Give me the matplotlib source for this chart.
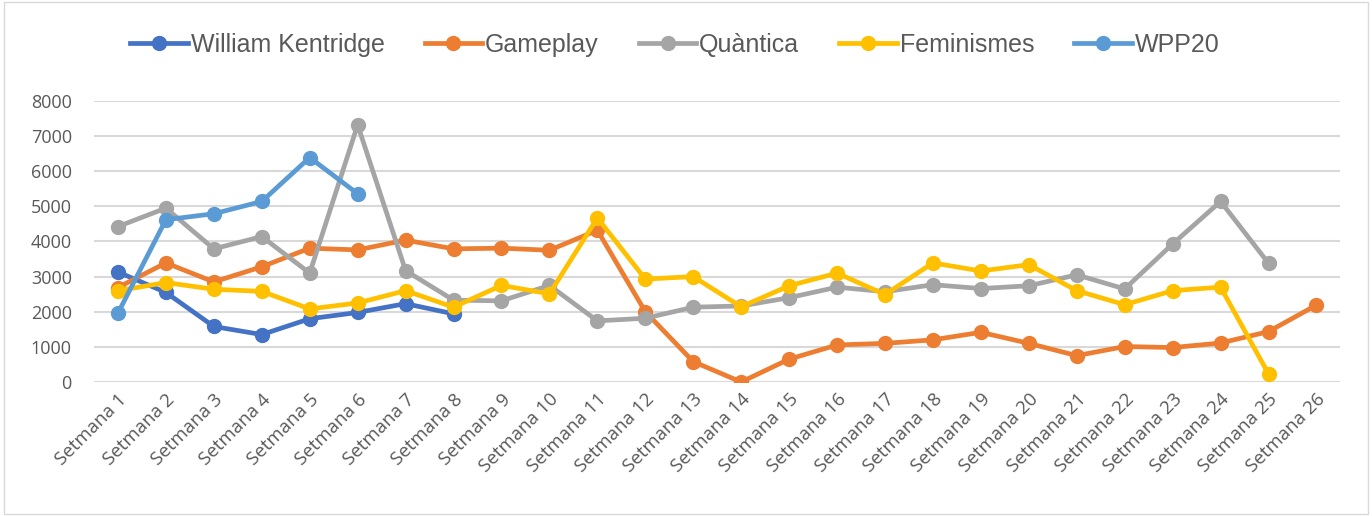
import numpy as np
import matplotlib.pyplot as plt
from matplotlib.patches import Rectangle

plt.rcParams['font.family'] = ['Open Sans', 'DejaVu Sans']

# Setmanes
weeks = [f"Setmana {i}" for i in range(1, 27)]

# Valors de cada exposició
kentridge = [3130, 2550, 1580, 1350, 1800, 1980, 2230, 1940]
gameplay = [2690, 3390, 2850, 3280, 3810, 3760, 4040, 3790, 3810, 3750, 4320, 2000,
            580, 0, 650, 1055, 1100, 1200, 1415, 1100, 750, 1010, 980, 1110, 1435, 2190]
quantica = [4425, 4950, 3790, 4140, 3100, 7320, 3170, 2330, 2310, 2750, 1740, 1815,
            2130, 2165, 2400, 2700, 2570, 2770, 2660, 2740, 3050, 2650, 3930, 5140, 3380]
feminismes = [2600, 2830, 2640, 2580, 2080, 2250, 2600, 2130, 2750, 2510, 4670, 2930,
              3000, 2140, 2740, 3100, 2490, 3390, 3160, 3340, 2600, 2200, 2600, 2700, 230]
wpp20 = [1960, 4620, 4790, 5140, 6390, 5360]

series = [
    ("William Kentridge", kentridge, "#4472C4"),
    ("Gameplay", gameplay, "#ED7D31"),
    ("Quàntica", quantica, "#A5A5A5"),
    ("Feminismes", feminismes, "#FFC000"),
    ("WPP20", wpp20, "#5B9BD5"),
]

fig = plt.figure(figsize=(13.72, 5.16), dpi=100)
ax = fig.add_axes([0.0685, 0.2597, 0.9085, 0.5446])

x = np.arange(1, 27)
for name, vals, col in series:
    ax.plot(x[:len(vals)], vals, color=col, lw=3.4, marker='o', ms=10,
            label=name, solid_joinstyle='round', zorder=3)

ax.set_xlim(0.5, 26.5)
ax.set_ylim(0, 8000)
ax.set_yticks(range(0, 8001, 1000))
ax.set_xticks(x)
ax.set_xticklabels(weeks, rotation=45, ha='right', rotation_mode='anchor')
ax.tick_params(axis='both', length=0, labelcolor='#595959')
ax.tick_params(axis='y', pad=16, labelsize=13)
ax.tick_params(axis='x', pad=6, labelsize=13.5)
ax.grid(axis='y', color='#D9D9D9', lw=1.5, zorder=0)
for s in ax.spines.values():
    s.set_visible(False)

fig.legend(loc='center', bbox_to_anchor=(0.492, 0.913), ncol=5, frameon=False,
           prop={'family': ['Liberation Sans', 'DejaVu Sans'], 'size': 18},
           handlelength=2.3, columnspacing=1.6, handletextpad=0.12,
           labelcolor='#595959')

fig.patches.append(Rectangle((0.003, 0.004), 0.994, 0.992, transform=fig.transFigure,
                             fill=False, edgecolor='#D9D9D9', lw=1))

fig.savefig('out.png', dpi=100)
